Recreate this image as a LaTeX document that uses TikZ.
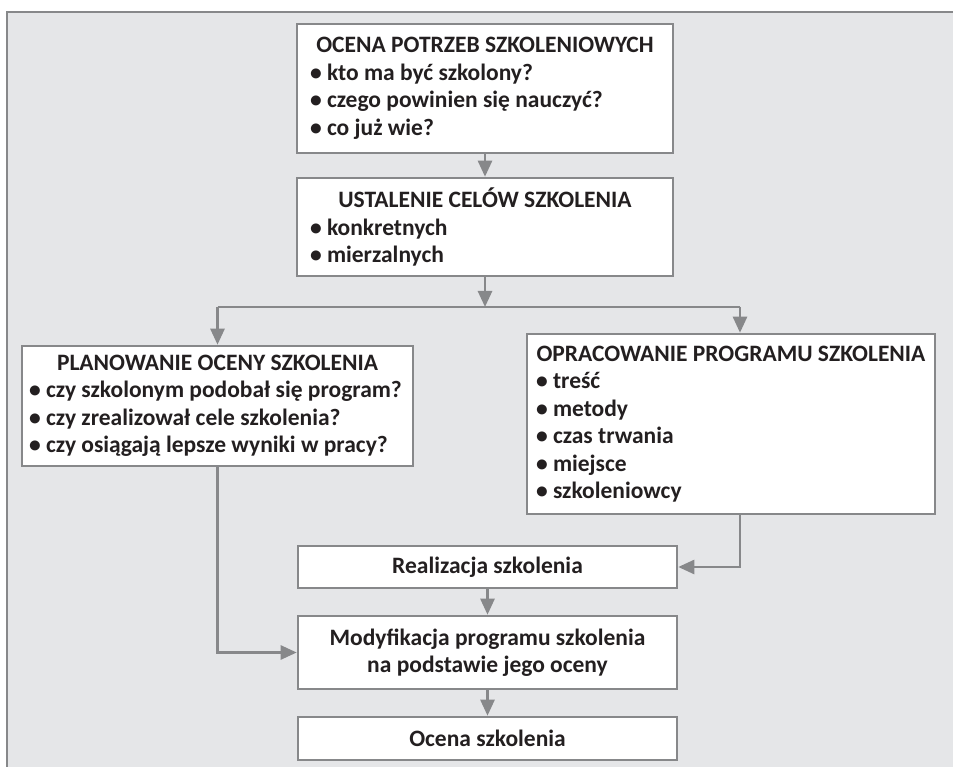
\documentclass[tikz,border=0pt]{standalone}
\usepackage{fontspec}
\setmainfont{Carlito}
\usetikzlibrary{arrows.meta}

\definecolor{panel}{HTML}{E5E6E8}
\definecolor{edge}{HTML}{87888A}
\definecolor{ink}{HTML}{231F20}

% centred heading line inside a fixed-width box, overflow split evenly
\newcommand{\boxhead}[1]{\hbox to\linewidth{\hss#1\hss}}
% one bullet line
\newcommand{\bulline}[1]{\par\noindent\textbullet\ #1}

\tikzset{
  box/.style={draw=edge, line width=2.6pt, fill=white, inner sep=0pt,
              text=ink, font=\bfseries\fontsize{23.5}{27.5}\selectfont},
  flow/.style={draw=edge, line width=2.6pt,
               -{Triangle[length=16pt,width=14pt]}},
  link/.style={draw=edge, line width=2.6pt}
}

\begin{document}
\begin{tikzpicture}[x=1pt,y=-1pt]
  \useasboundingbox (0,0) rectangle (953,767);
  \fill[white] (0,0) rectangle (953,767);
  \fill[panel] (7,12) rectangle (953,767);
  \draw[edge, line width=2.6pt] (7,767) -- (7,12) -- (953,12);

  % needs assessment
  \node[box, minimum width=376pt, minimum height=129pt] (need) at (485,88.5) {%
    \begin{minipage}{350pt}
      \boxhead{OCENA POTRZEB SZKOLENIOWYCH}
      \bulline{kto ma być szkolony?}
      \bulline{czego powinien się nauczyć?}
      \bulline{co już wie?}
    \end{minipage}};

  % training goals
  \node[box, minimum width=376pt, minimum height=98pt] (goal) at (485,227) {%
    \begin{minipage}{350pt}
      \boxhead{USTALENIE CELÓW SZKOLENIA}
      \bulline{konkretnych}
      \bulline{mierzalnych}
    \end{minipage}};

  % planning the evaluation
  \node[box, minimum width=391pt, minimum height=120pt] (plan) at (217.5,406) {%
    \begin{minipage}{377pt}
      \boxhead{PLANOWANIE OCENY SZKOLENIA}
      \bulline{czy szkolonym podobał się program?}
      \bulline{czy zrealizował cele szkolenia?}
      \bulline{czy osiągają lepsze wyniki w pracy?}
    \end{minipage}};

  % programme design
  \node[box, minimum width=408pt, minimum height=180pt] (prog) at (731,424) {%
    \begin{minipage}{390pt}
      \boxhead{OPRACOWANIE PROGRAMU SZKOLENIA}
      \bulline{treść}
      \bulline{metody}
      \bulline{czas trwania}
      \bulline{miejsce}
      \bulline{szkoleniowcy}
    \end{minipage}};

  % lower chain
  \node[box, minimum width=379pt, minimum height=42pt] (real) at (487.5,567)
    {Realizacja szkolenia};
  \node[box, minimum width=379pt, minimum height=73pt, align=center] (modi) at (487.5,652.5)
    {Modyfikacja programu szkolenia\\[-1pt]na podstawie jego oceny};
  \node[box, minimum width=379pt, minimum height=43pt] (eval) at (487.5,738.5)
    {Ocena szkolenia};

  % split point and branches
  \coordinate (split) at (485,307);
  \coordinate (sL) at (217.5,307);
  \coordinate (sR) at (740,307);

  \draw[flow] (need.south) -- (goal.north);
  \draw[flow] (goal.south) -- (split);
  \draw[link] (sL) -- (sR);
  \draw[flow] (sL) -- (plan.north);
  \draw[flow] (sR) -- (sR |- prog.north);
  \draw[flow] (sR |- prog.south) |- (real.east);
  \draw[flow] (plan.south) |- (modi.west);
  \draw[flow] (real.south) -- (modi.north);
  \draw[flow] (modi.south) -- (eval.north);
\end{tikzpicture}
\end{document}
